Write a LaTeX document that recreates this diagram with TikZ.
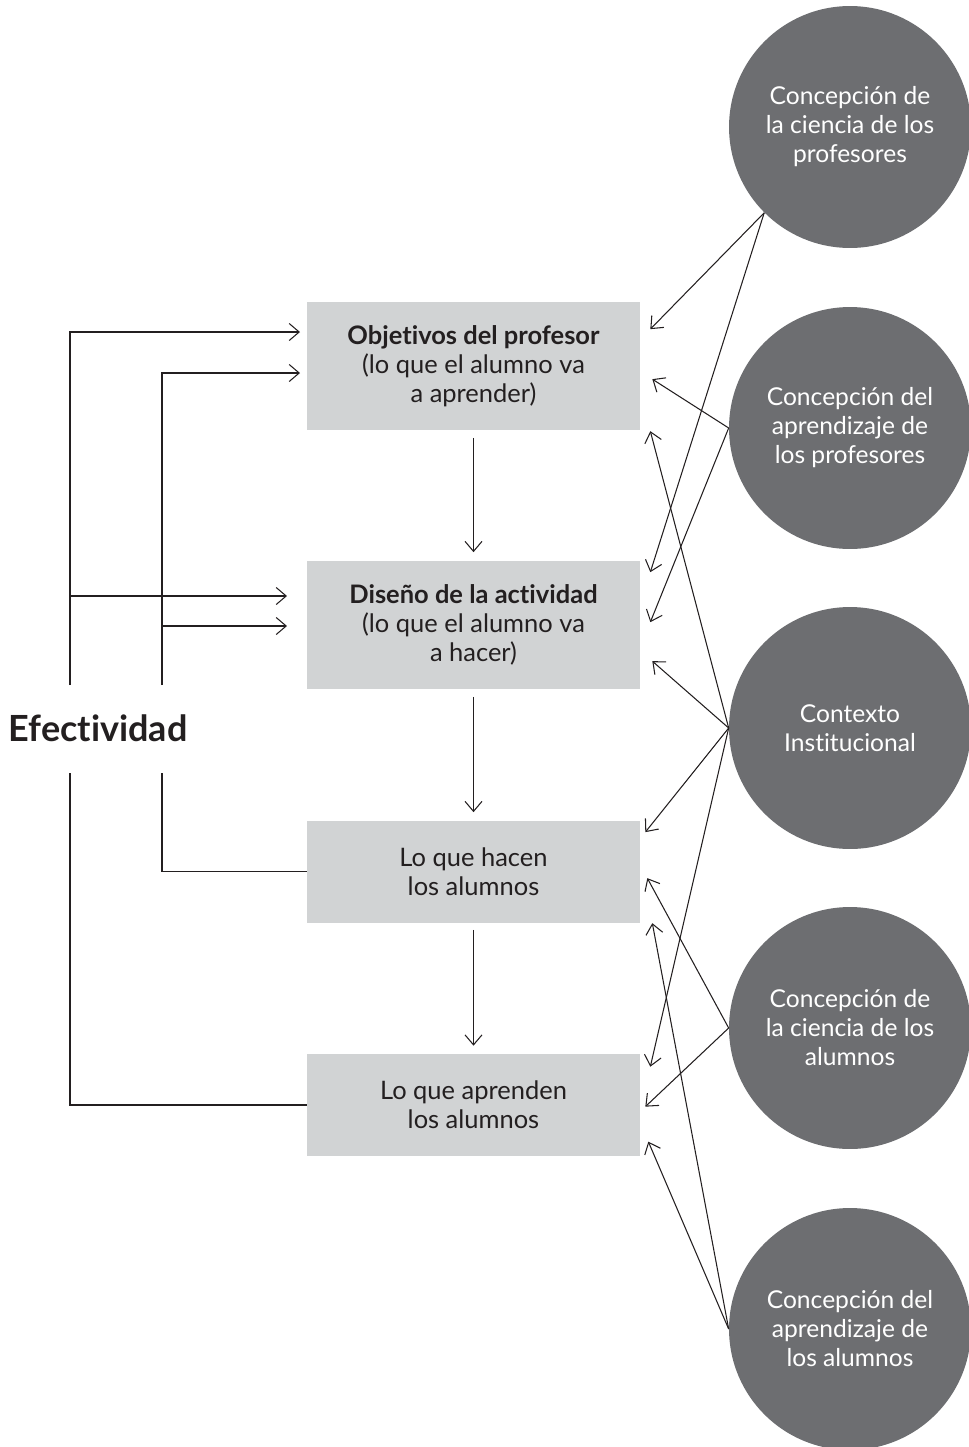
\documentclass[tikz,border=0pt]{standalone}
\usepackage{fontspec}
\setmainfont{Lato}[Ligatures={NoCommon}]
\usetikzlibrary{arrows.meta,calc}
\definecolor{boxgray}{HTML}{D1D3D4}
\definecolor{circgray}{HTML}{6D6E71}
\definecolor{ink}{HTML}{231F20}

\begin{document}
\begin{tikzpicture}[x=0.02cm, y=-0.02cm,
		caja/.style={fill=boxgray, minimum width=6.66cm, inner sep=0pt, align=center, text=ink, font=\fontsize{14.5}{16.5}\selectfont},
		circulo/.style={circle, fill=circgray, minimum size=4.84cm, inner sep=0pt, align=center, text=white, font=\fontsize{14}{16.5}\selectfont},
		linea/.style={draw=ink, line width=0.6pt},
		flecha/.style={linea, -{Straight Barb[length=0.2cm,width=0.34cm]}}]
			\useasboundingbox (0,0) rectangle (968,1447);

			% cajas
			\node[caja, minimum height=2.58cm] (b1) at (473.5,366) {\textbf{Objetivos del profesor}\\(lo que el alumno va\\a aprender)};
			\node[caja, minimum height=2.58cm] (b2) at (473.5,625) {\textbf{Diseño de la actividad}\\(lo que el alumno va\\a hacer)};
			\node[caja, minimum height=2.04cm] (b3) at (473.5,871.5) {Lo que hacen\\los alumnos};
			\node[caja, minimum height=2.04cm] (b4) at (473.5,1105) {Lo que aprenden\\los alumnos};

			% circulos
			\node[circulo] (c1) at (850,127) {Concepción de\\la ciencia de los\\profesores};
			\node[circulo] (c2) at (850,428) {Concepción del\\aprendizaje de\\los profesores};
			\node[circulo] (c3) at (850,728) {Contexto\\Institucional};
			\node[circulo] (c4) at (850,1028) {Concepción de\\la ciencia de los\\alumnos};
			\node[circulo] (c5) at (850,1329) {Concepción del\\aprendizaje de\\los alumnos};

			\node[text=ink, font=\bfseries\fontsize{20.5}{24}\selectfont] (efec) at (98,728) {Efectividad};

			\draw[flecha, shorten <=0.14cm, shorten >=0.16cm] (b1) -- (b2);
			\draw[flecha, shorten <=0.14cm, shorten >=0.16cm] (b2) -- (b3);
			\draw[flecha, shorten <=0.14cm, shorten >=0.16cm] (b3) -- (b4);

			% puntas junto a las cajas
			\coordinate (t1a) at ($(b1.north east)+(10,28)$);
			\coordinate (t1b) at ($(b1.north east)+(12,78)$);
			\coordinate (t1c) at ($(b1.north east)+(10,130)$);
			\coordinate (t2a) at ($(b2.north east)+(10,12)$);
			\coordinate (t2b) at ($(b2.north east)+(10,62)$);
			\coordinate (t2c) at ($(b2.north east)+(12,101)$);
			\coordinate (t3a) at ($(b3.north east)+(5,12)$);
			\coordinate (t3b) at ($(b3.north east)+(7,58)$);
			\coordinate (t3c) at ($(b3.north east)+(12,103)$);
			\coordinate (t4a) at ($(b4.north east)+(10,13)$);
			\coordinate (t4b) at ($(b4.north east)+(5,53)$);
			\coordinate (t4c) at ($(b4.north east)+(8,88)$);

			\draw[flecha] (c1.225) -- (t1a);
			\draw[flecha] (c1.225) -- (t2a);
			\draw[flecha] (c2.west) -- (t1b);
			\draw[flecha] (c2.west) -- (t2b);
			\draw[flecha] (c3.west) -- (t1c);
			\draw[flecha] (c3.west) -- (t2c);
			\draw[flecha] (c3.west) -- (t3a);
			\draw[flecha] (c3.west) -- (t4a);
			\draw[flecha] (c4.west) -- (t3b);
			\draw[flecha] (c4.west) -- (t4b);
			\draw[flecha] (c5.west) -- (t3c);
			\draw[flecha] (c5.west) -- (t4c);

			% lazos de efectividad
			\coordinate (ea) at (70,773);
			\coordinate (eb) at (70,685);
			\coordinate (ia) at (162,773);
			\coordinate (ib) at (162,685);
			\coordinate (a1) at (300,332);
			\coordinate (a2) at (287,596);
			\coordinate (a3) at (300,373);
			\coordinate (a4) at (287,626);

			\draw[linea] (b4.west) -| (ea);
			\draw[flecha] (eb) |- (a1);
			\draw[flecha] (eb |- a2) -- (a2);
			\draw[linea] (b3.west) -| (ia);
			\draw[flecha] (ib) |- (a3);
			\draw[flecha] (ib |- a4) -- (a4);
		\end{tikzpicture}
\end{document}
